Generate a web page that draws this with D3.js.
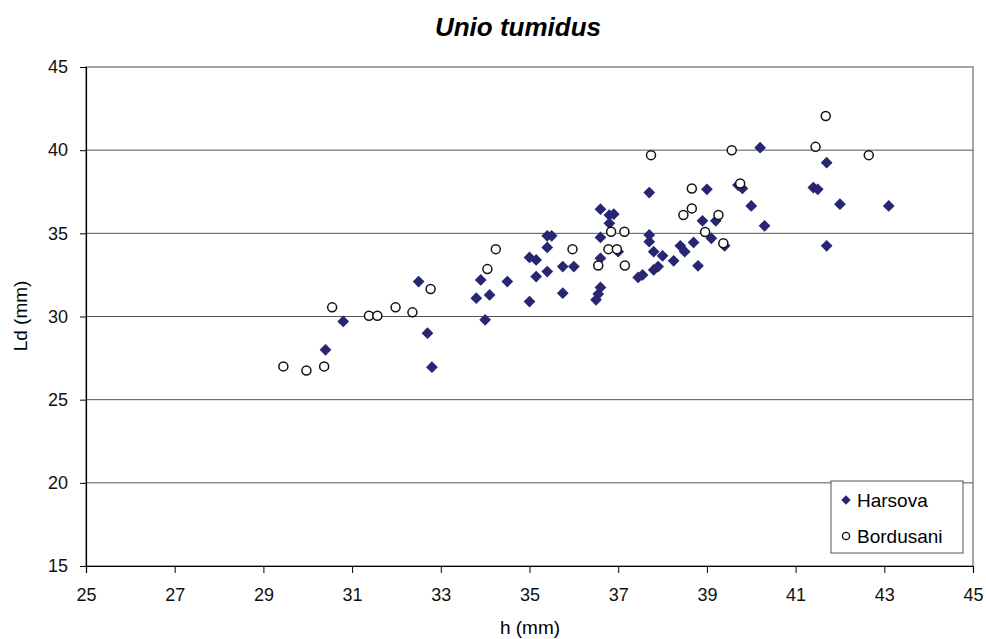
<!DOCTYPE html>
<html><head><meta charset="utf-8">
<script src="https://cdn.jsdelivr.net/npm/d3@7"></script>
<style>body{margin:0;background:#fff}svg{display:block}text{font-family:"Liberation Sans",Arial,sans-serif}</style>
</head><body><svg id="c" width="986" height="639"></svg>
<script>
const title = "Unio tumidus";
const xLabel = "h (mm)";
const yLabel = "Ld (mm)";
const xTicks = [25,27,29,31,33,35,37,39,41,43,45];
const yTicks = [15,20,25,30,35,40,45];
const seriesNames = ["Harsova","Bordusani"];
const harsovaH = [30.4,30.8,32.5,32.7,32.8,33.8,33.9,34.0,34.1,34.5,35.0,35.0,35.15,35.15,35.4,35.4,35.4,35.5,35.75,35.75,36.0,36.5,36.55,36.6,36.6,36.6,36.6,36.8,36.8,36.9,37.0,37.45,37.55,37.7,37.7,37.7,37.8,37.8,37.9,38.0,38.25,38.4,38.5,38.7,38.8,38.9,39.0,39.1,39.2,39.4,39.7,39.8,40.0,40.2,40.3,41.4,41.5,41.7,41.7,42.0,43.1];
const harsovaLd = [28.0,29.7,32.1,29.0,26.95,31.1,32.2,29.8,31.3,32.1,33.55,30.9,33.4,32.4,34.15,32.7,34.85,34.85,33.0,31.4,33.0,31.0,31.35,31.75,33.5,34.75,36.45,35.6,36.1,36.15,33.9,32.35,32.5,37.45,34.9,34.5,33.9,32.8,33.0,33.65,33.35,34.25,33.9,34.45,33.05,35.75,37.65,34.7,35.75,34.25,37.9,37.7,36.65,40.15,35.45,37.75,37.65,39.25,34.25,36.75,36.65];
const bordH = [29.45,29.97,30.37,30.55,31.38,31.57,31.98,32.36,32.77,34.05,34.24,35.97,36.55,36.78,36.97,37.15,36.84,37.14,37.74,38.47,38.66,38.66,38.96,39.26,39.37,39.56,39.75,41.45,41.68,42.65];
const bordLd = [27.0,26.75,27.0,30.55,30.05,30.05,30.55,30.25,31.65,32.85,34.05,34.05,33.07,34.05,34.05,33.07,35.1,35.1,39.7,36.1,36.5,37.7,35.08,36.1,34.4,40.0,38.0,40.2,42.05,39.7];

const svg = d3.select("#c");
const L=86,R=973,T=67,B=566;
const x = d3.scaleLinear().domain([25,45]).range([L,R]);
const y = d3.scaleLinear().domain([15,45]).range([B,T]);
const ff = "'Liberation Sans',Arial,sans-serif";

svg.append("rect").attr("x",L).attr("y",T).attr("width",R-L).attr("height",B-T)
  .attr("fill","none").attr("stroke","#888").attr("stroke-width",1.5);
svg.append("g").selectAll("line").data(yTicks.filter(v=>v>15&&v<45)).join("line")
  .attr("x1",L).attr("x2",R).attr("y1",d=>y(d)).attr("y2",d=>y(d))
  .attr("stroke","#555").attr("stroke-width",1);

const xa = svg.append("g").attr("transform",`translate(0,${B})`)
  .call(d3.axisBottom(x).tickValues(xTicks).tickSize(7).tickPadding(15).tickFormat(d3.format("d")));
const ya = svg.append("g").attr("transform",`translate(${L},0)`)
  .call(d3.axisLeft(y).tickValues(yTicks).tickSize(6).tickPadding(12).tickFormat(d3.format("d")));
[xa,ya].forEach(a=>{a.attr("font-size",null).attr("font-family",null);
  a.selectAll("text").style("font-size","18px").attr("fill","#111").style("font-family",ff);
  a.select(".domain").attr("stroke","#000").attr("stroke-width",1.2);
  a.selectAll(".tick line").attr("stroke","#000");});

const hData = harsovaH.map((h,i)=>({h,ld:harsovaLd[i]}));
const bData = bordH.map((h,i)=>({h,ld:bordLd[i]}));
const diamond = d3.symbol().type(d3.symbolDiamond2).size(88);
svg.append("g").selectAll("path").data(hData).join("path")
  .attr("d",diamond).attr("transform",d=>`translate(${x(d.h)},${y(d.ld)})`)
  .attr("fill","#262673");
svg.append("g").selectAll("circle").data(bData).join("circle")
  .attr("cx",d=>x(d.h)).attr("cy",d=>y(d.ld)).attr("r",4.5)
  .attr("fill","#fff").attr("stroke","#111").attr("stroke-width",1.5);

svg.append("text").attr("x",518).attr("y",36).attr("text-anchor","middle").style("font-family",ff)
  .style("font-size","26px").attr("font-weight","bold").attr("font-style","italic").text(title);
svg.append("text").attr("x",530).attr("y",634).attr("text-anchor","middle").style("font-size","19px").style("font-family",ff).text(xLabel);
svg.append("text").attr("transform","translate(27,316) rotate(-90)").attr("text-anchor","middle").style("font-size","19px").style("font-family",ff).text(yLabel);

const lg = svg.append("g");
lg.append("rect").attr("x",831).attr("y",481).attr("width",132).attr("height",72)
  .attr("fill","#fff").attr("stroke","#555").attr("stroke-width",1);
lg.append("path").attr("d",d3.symbol().type(d3.symbolDiamond2).size(55)).attr("transform","translate(846,500)").attr("fill","#262673");
lg.append("circle").attr("cx",846).attr("cy",536).attr("r",3.6).attr("fill","#fff").attr("stroke","#111").attr("stroke-width",1.4);
lg.append("text").attr("x",857).attr("y",507).style("font-size","19px").style("font-family",ff).text(seriesNames[0]);
lg.append("text").attr("x",857).attr("y",543).style("font-size","19px").style("font-family",ff).text(seriesNames[1]);
</script></body></html>
